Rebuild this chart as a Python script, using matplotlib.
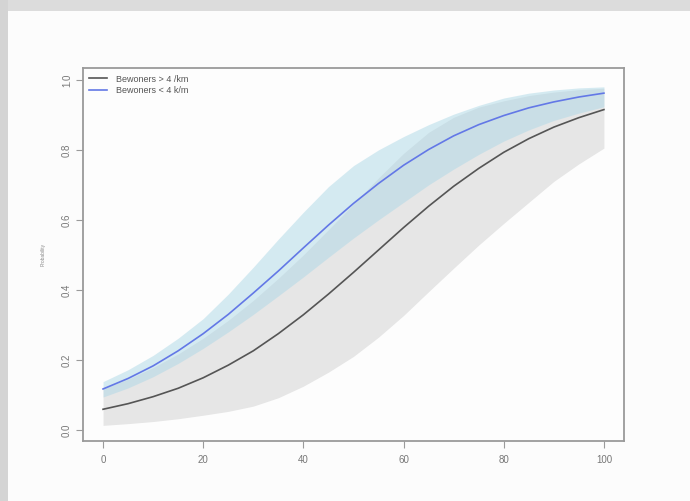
import matplotlib
matplotlib.use("Agg")
import matplotlib.pyplot as plt
from matplotlib.patches import Rectangle

plt.rcParams['font.family'] = ['Liberation Sans', 'DejaVu Sans']

# ---- data ----
x = [0, 5, 10, 15, 20, 25, 30, 35, 40, 45, 50, 55, 60, 65, 70, 75, 80, 85, 90, 95, 100]

# Bewoners > 4 /km (dark line, grey band)
black_fit = [0.059, 0.075, 0.095, 0.119, 0.149, 0.185, 0.226, 0.275, 0.329, 0.388, 0.450,
             0.514, 0.578, 0.639, 0.696, 0.747, 0.793, 0.832, 0.865, 0.892, 0.915]
black_hi = [0.118, 0.145, 0.178, 0.217, 0.262, 0.313, 0.370, 0.433, 0.500, 0.572, 0.645,
            0.720, 0.790, 0.850, 0.893, 0.922, 0.940, 0.955, 0.965, 0.972, 0.976]
black_lo = [0.013, 0.018, 0.024, 0.032, 0.042, 0.053, 0.068, 0.092, 0.125, 0.165, 0.210,
            0.265, 0.327, 0.395, 0.462, 0.528, 0.590, 0.650, 0.710, 0.760, 0.805]

# Bewoners < 4 k/m (blue line, light blue band)
blue_fit = [0.117, 0.147, 0.183, 0.226, 0.275, 0.330, 0.391, 0.454, 0.520, 0.585, 0.647,
            0.704, 0.756, 0.801, 0.840, 0.872, 0.898, 0.920, 0.937, 0.951, 0.962]
blue_hi = [0.138, 0.172, 0.213, 0.262, 0.318, 0.388, 0.465, 0.545, 0.622, 0.695, 0.755,
           0.800, 0.838, 0.872, 0.902, 0.927, 0.948, 0.962, 0.971, 0.977, 0.980]
blue_lo = [0.094, 0.120, 0.152, 0.190, 0.233, 0.280, 0.330, 0.383, 0.437, 0.493, 0.548,
           0.600, 0.650, 0.700, 0.745, 0.787, 0.825, 0.857, 0.884, 0.905, 0.923]

labels = ["Bewoners > 4 /km", "Bewoners < 4 k/m"]
xticks = [0, 20, 40, 60, 80, 100]
yticks = [0.0, 0.2, 0.4, 0.6, 0.8, 1.0]

# ---- figure ----
fig = plt.figure(figsize=(6.9, 5.01), dpi=100, facecolor="#fcfcfc")

# photo-like page edges
fig.patches.append(Rectangle((0, 0.978), 1, 0.022, transform=fig.transFigure,
                             facecolor="#dcdcdc", edgecolor="none", zorder=0))
fig.patches.append(Rectangle((0, 0), 0.011, 1, transform=fig.transFigure,
                             facecolor="#d4d4d4", edgecolor="none", zorder=0))

ax = fig.add_axes([0.1203, 0.1188, 0.784, 0.7449])
ax.set_facecolor("#fdfdfd")

ax.fill_between(x, black_lo, black_hi, color="#e6e6e6", linewidth=0)
ax.fill_between(x, blue_lo, blue_hi, color="#add8e6", alpha=0.5, linewidth=0)
ax.plot(x, black_fit, color="#555555", lw=1.2, label=labels[0])
ax.plot(x, blue_fit, color="#6378e6", lw=1.2, label=labels[1])

ax.set_xlim(-4, 104)
ax.set_ylim(-0.033, 1.033)
ax.set_xticks(xticks)
ax.set_xticklabels([str(v) for v in xticks])
ax.set_yticks(yticks)
ax.set_yticklabels([f"{v:.1f}" for v in yticks], rotation=90, va="center")

for s in ax.spines.values():
    s.set_color("#9a9a9a")
    s.set_linewidth(1.3)
ax.tick_params(axis="both", colors="#9a9a9a", labelcolor="#777777", labelsize=7,
               length=5, width=0.8, direction="out", pad=5)
ax.tick_params(axis="y", pad=3)

ax.set_ylabel("Probability", fontsize=3.5, color="#888888", labelpad=12)

leg = ax.legend(loc="upper left", frameon=False, fontsize=6.5, handlelength=2.0,
                borderaxespad=0.3, labelspacing=0.3, handletextpad=0.9)
for t in leg.get_texts():
    t.set_color("#555555")

fig.savefig("out.png", dpi=100, facecolor=fig.get_facecolor())
